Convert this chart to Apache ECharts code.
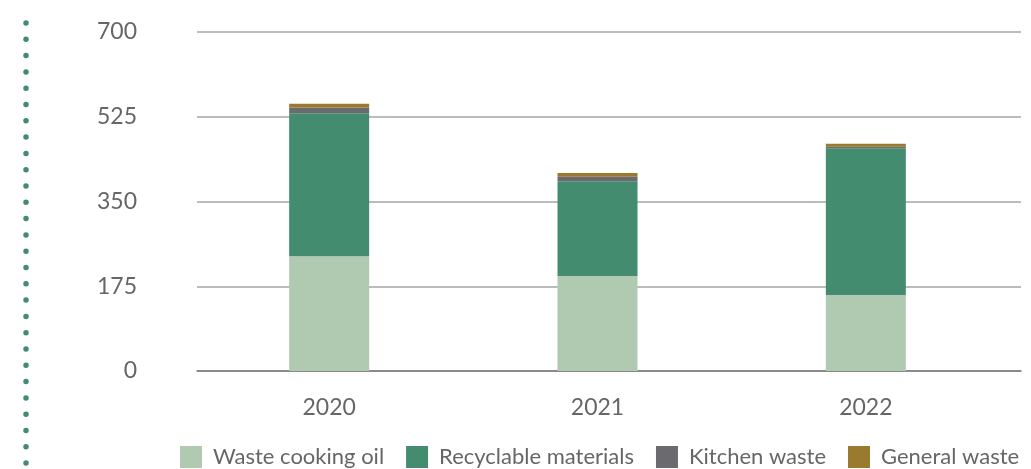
<!DOCTYPE html>
<html>
<head>
<meta charset="utf-8">
<script src="https://cdn.jsdelivr.net/npm/echarts@6/dist/echarts.min.js"></script>
<style>html,body{margin:0;padding:0;background:#fff;}#c{width:1031px;height:469px;}</style>
</head>
<body>
<div id="c"></div>
<script>
const categories = ['2020', '2021', '2022'];
const wasteCookingOil = [237, 196, 157];
const recyclableMaterials = [295, 196, 303];
const kitchenWaste = [12, 9, 3];
const generalWaste = [8, 8, 6];
const seriesNames = ['Waste cooking oil', 'Recyclable materials', 'Kitchen waste', 'General waste'];
const yTicks = [0, 175, 350, 525, 700];

const colors = ['#afcab1', '#438c6f', '#6b6b6f', '#9a7a2e'];
const FONT = 'Lato';
const chart = echarts.init(document.getElementById('c'), null, {renderer: 'canvas'});
const seriesData = [wasteCookingOil, recyclableMaterials, kitchenWaste, generalWaste];

chart.setOption({
  animation: false,
  color: colors,
  textStyle: {fontFamily: FONT},
  grid: [
    {left: 197, right: 10, top: 32, bottom: 98},
    {left: 195, right: 31, top: 32, bottom: 98}
  ],
  legend: {
    left: 180, top: 446, padding: 0,
    itemWidth: 22, itemHeight: 22, itemGap: 22,
    icon: 'rect',
    data: seriesNames,
    textStyle: {fontSize: 22, color: '#666', fontFamily: FONT, padding: [0, 0, 0, 6]}
  },
  xAxis: [
    {type: 'category', gridIndex: 0, data: categories, axisLabel: {show: false}, axisTick: {show: false},
     axisLine: {show: true, lineStyle: {color: '#7a7a7a', width: 1.5}}},
    {type: 'category', gridIndex: 1, data: categories, axisTick: {show: false}, axisLine: {show: false},
     axisLabel: {fontSize: 23, color: '#666', margin: 25, fontFamily: FONT}}
  ],
  yAxis: [
    {type: 'value', gridIndex: 0, min: yTicks[0], max: yTicks[yTicks.length - 1], interval: 175,
     axisLine: {show: false}, axisTick: {show: false},
     axisLabel: {fontSize: 23, color: '#666', margin: 60, fontFamily: FONT},
     splitLine: {lineStyle: {color: '#a6a6a6', width: 1.5}}},
    {type: 'value', gridIndex: 1, min: yTicks[0], max: yTicks[yTicks.length - 1], interval: 175,
     show: false, splitLine: {show: false}}
  ],
  graphic: [{
    type: 'line', shape: {x1: 26, y1: 23, x2: 26, y2: 464},
    style: {stroke: '#438c6f', lineWidth: 5.5, lineDash: [0, 16.3], lineCap: 'round'}
  }],
  series: seriesNames.map((n, i) => ({
    name: n, type: 'bar', stack: 'total', xAxisIndex: 1, yAxisIndex: 1,
    barWidth: 80, data: seriesData[i], itemStyle: {color: colors[i]}
  }))
});
</script>
</body>
</html>
